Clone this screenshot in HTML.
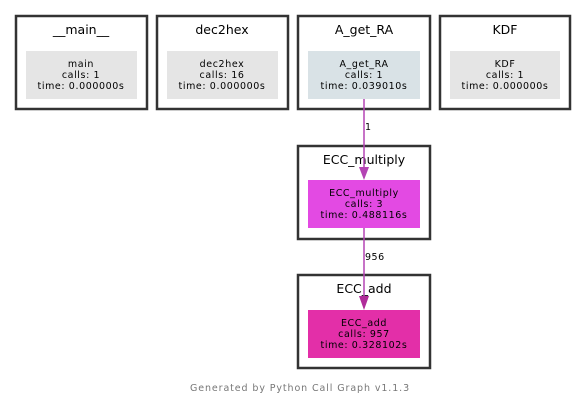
<!DOCTYPE html>
<html><head><style>body{margin:0;background:#fff}svg{display:block}</style></head><body>
<svg width="587" height="407" xmlns="http://www.w3.org/2000/svg" font-family="'DejaVu Sans','Liberation Sans',sans-serif">
<rect width="587" height="407" fill="#fff"/>
<g fill="none" stroke="#333" stroke-width="2.5">
<rect x="16" y="16" width="131" height="93"/>
<rect x="157" y="16" width="131" height="93"/>
<rect x="298" y="16" width="132" height="93"/>
<rect x="440" y="16" width="130" height="93"/>
<rect x="298" y="146" width="132" height="93"/>
<rect x="298" y="275" width="132" height="93"/>
</g>
<g font-size="12.5" text-anchor="middle" fill="#000">
<text x="81" y="34">__main__</text>
<text x="222" y="34">dec2hex</text>
<text x="364" y="34">A_get_RA</text>
<text x="505" y="34">KDF</text>
<text x="364" y="164">ECC_multiply</text>
<text x="364" y="293">ECC_add</text>
</g>
<rect x="26" y="51" width="111" height="48" fill="#e5e5e5"/>
<rect x="167" y="51" width="111" height="48" fill="#e5e5e5"/>
<rect x="308" y="51" width="112" height="48" fill="#d9e2e6"/>
<rect x="450" y="51" width="110" height="48" fill="#e5e5e5"/>
<rect x="308" y="180" width="112" height="48" fill="#e34ae3"/>
<rect x="308" y="310" width="112" height="48" fill="#e32fa8"/>
<g font-size="9.5" letter-spacing="0.6" text-anchor="middle" fill="#000">
<text x="81" y="67">main</text><text x="81" y="78">calls: 1</text><text x="81" y="89">time: 0.000000s</text>
<text x="222" y="67">dec2hex</text><text x="222" y="78">calls: 16</text><text x="222" y="89">time: 0.000000s</text>
<text x="364" y="67">A_get_RA</text><text x="364" y="78">calls: 1</text><text x="364" y="89">time: 0.039010s</text>
<text x="505" y="67">KDF</text><text x="505" y="78">calls: 1</text><text x="505" y="89">time: 0.000000s</text>
<text x="364" y="196">ECC_multiply</text><text x="364" y="207">calls: 3</text><text x="364" y="218">time: 0.488116s</text>
<text x="364" y="326">ECC_add</text><text x="364" y="337">calls: 957</text><text x="364" y="348">time: 0.328102s</text>
</g>
<g stroke="#b444b4" stroke-width="1.5" fill="none">
<line x1="364" y1="99" x2="364" y2="168"/>
<line x1="364" y1="228" x2="364" y2="297"/>
</g>
<polygon points="359,167 369,167 364,180" fill="#b444b4"/>
<polygon points="359,296 369,296 364,310" fill="#b02c9a"/>
<g font-size="9.5" letter-spacing="0.5" fill="#000">
<text x="365" y="130">1</text>
<text x="365" y="260">956</text>
</g>
<text x="300" y="391" font-size="9.5" letter-spacing="0.9" fill="#777" text-anchor="middle">Generated by Python Call Graph v1.1.3</text>
</svg>
</body></html>
